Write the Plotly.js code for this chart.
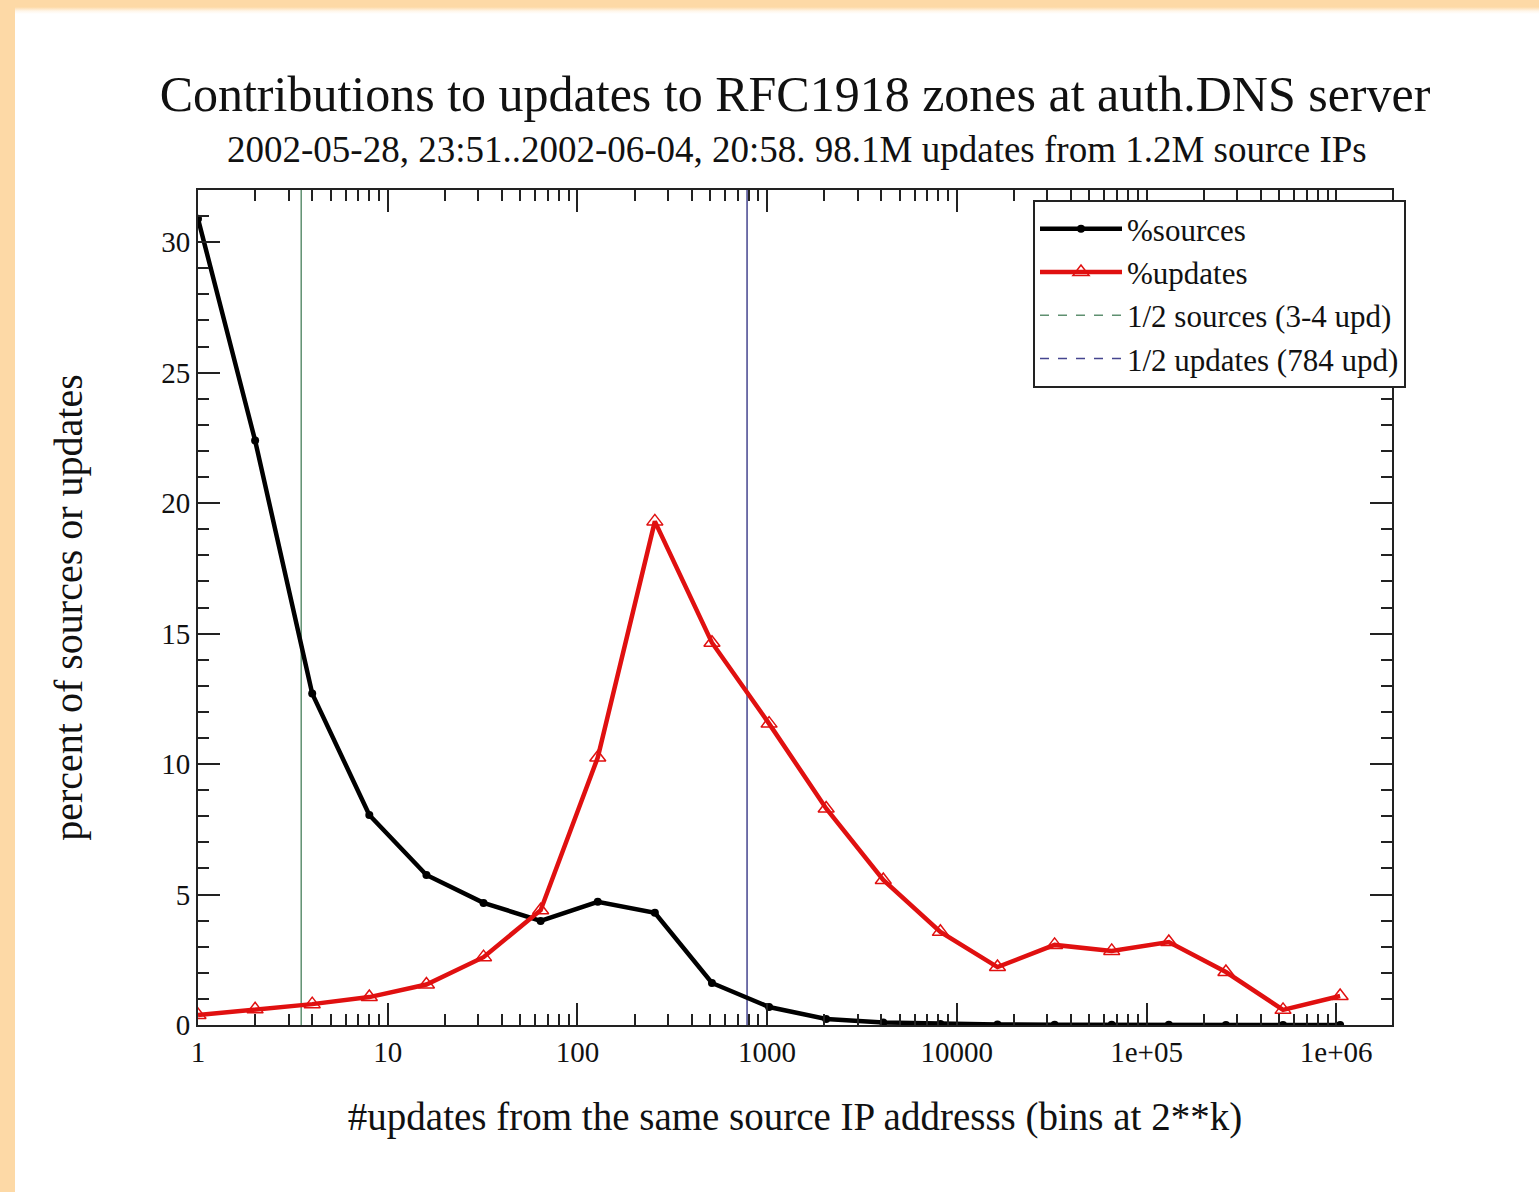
<!DOCTYPE html>
<html>
<head>
<meta charset="utf-8">
<script src="https://cdn.plot.ly/plotly-3.0.1.min.js"></script>
<style>
  html, body { margin: 0; padding: 0; background: #ffffff; }
  #frameLeft { position: absolute; left: 0; top: 0; width: 15px; height: 1192px; background: #fdd9a6; }
  #frameTop { position: absolute; left: 0; top: 0; width: 1539px; height: 14px;
              background: linear-gradient(#fdd9a6 0px, #fdd9a6 7px, #fff6ea 11px, #ffffff 14px); }
  #chart { position: absolute; left: 0; top: 0; width: 1539px; height: 1192px; }
</style>
</head>
<body>
<div id="frameTop"></div>
<div id="frameLeft"></div>
<div id="chart"></div>
<script>
// bins at 2**k, k = 0..20
var binUpdates = [1, 2, 4, 8, 16, 32, 64, 128, 256, 512, 1024, 2048, 4096, 8192,
                  16384, 32768, 65536, 131072, 262144, 524288, 1048576];
var pctSources = [30.9, 22.4, 12.7, 8.05, 5.75, 4.68, 3.99, 4.72, 4.3, 1.61, 0.69,
                  0.23, 0.1, 0.04, 0.02, 0.01, 0.01, 0.01, 0.0, 0.0, 0.0];
var pctUpdates = [0.38, 0.6, 0.8, 1.07, 1.55, 2.6, 4.4, 10.25, 19.3, 14.65, 11.55,
                  8.3, 5.56, 3.57, 2.22, 3.07, 2.84, 3.18, 2.03, 0.58, 1.11];
var halfSourcesX = [3.5, 3.5];
var halfUpdatesX = [784, 784];
var vLineY = [0, 32];
var xTickVals = [1, 10, 100, 1000, 10000, 100000, 1000000];
var xTickText = ["1", "10", "100", "1000", "10000", "1e+05", "1e+06"];
var yTickVals = [0, 5, 10, 15, 20, 25, 30];

var xMinor = [];
for (var d = 1; d <= 100000; d *= 10) {
  for (var m = 2; m <= 9; m++) xMinor.push(m * d);
}

var serif = "Liberation Serif, Times New Roman, serif";

var traces = [
  { x: halfSourcesX, y: vLineY, mode: "lines", showlegend: false, hoverinfo: "skip",
    line: { color: "#5f9070", width: 1.5 } },
  { x: halfUpdatesX, y: vLineY, mode: "lines", showlegend: false, hoverinfo: "skip",
    line: { color: "#45458f", width: 1.5 } },
  { x: binUpdates, y: pctSources, mode: "lines+markers", name: "%sources",
    line: { color: "#000000", width: 4.5 },
    marker: { symbol: "circle", size: 8, color: "#000000" } },
  { x: binUpdates, y: pctUpdates, mode: "lines+markers", name: "%updates",
    line: { color: "#e01010", width: 4.5 },
    marker: { symbol: "triangle-up-open", size: 14, color: "#e01010", line: { width: 1.5, color: "#e01010" } } },
  { x: [null], y: [null], mode: "lines", name: "1/2 sources (3-4 upd)",
    line: { color: "#5f9070", width: 1.5, dash: "dash" } },
  { x: [null], y: [null], mode: "lines", name: "1/2 updates (784 upd)",
    line: { color: "#45458f", width: 1.5, dash: "dash" } }
];

var layout = {
  width: 1539, height: 1192,
  paper_bgcolor: "rgba(0,0,0,0)",
  plot_bgcolor: "#ffffff",
  margin: { l: 198, r: 147, t: 190, b: 167 },
  font: { family: serif, color: "#111111", size: 28 },
  title: {
    text: "Contributions to updates to RFC1918 zones at auth.DNS server",
    font: { family: serif, size: 50, color: "#111111" },
    x: 0.5, xref: "paper", xanchor: "center",
    y: 1 - 93 / 1192, yref: "container", yanchor: "middle"
  },
  annotations: [{
    text: "2002-05-28, 23:51..2002-06-04, 20:58. 98.1M updates from 1.2M source IPs",
    xref: "paper", yref: "paper", x: 0.502, y: 1 + (190 - 149) / 835,
    xanchor: "center", yanchor: "middle", showarrow: false,
    font: { family: serif, size: 37, color: "#111111" }
  }],
  xaxis: {
    type: "log",
    range: [0, 6.294],
    tickmode: "array", tickvals: xTickVals, ticktext: xTickText,
    ticks: "inside", ticklen: 22, tickwidth: 2, tickcolor: "#222222",
    minor: { tickmode: "array", tickvals: xMinor, ticks: "inside", ticklen: 11, tickwidth: 2, tickcolor: "#222222" },
    showline: true, linecolor: "#222222", linewidth: 2, mirror: "allticks",
    showgrid: false, zeroline: false,
    tickfont: { family: serif, size: 29, color: "#111111" },
    title: { text: "#updates from the same source IP addresss (bins at 2**k)",
             font: { family: serif, size: 39, color: "#111111" }, standoff: 36 }
  },
  yaxis: {
    range: [0, 32],
    tickmode: "array", tickvals: yTickVals,
    ticks: "inside", ticklen: 22, tickwidth: 2, tickcolor: "#222222",
    minor: { dtick: 1, ticks: "inside", ticklen: 11, tickwidth: 2, tickcolor: "#222222" },
    showline: true, linecolor: "#222222", linewidth: 2, mirror: "allticks",
    showgrid: false, zeroline: false,
    tickfont: { family: serif, size: 29, color: "#111111" },
    title: { text: "percent of sources or updates",
             font: { family: serif, size: 40, color: "#111111" }, standoff: 66 }
  },
  legend: {
    x: (1033 - 198) / 1194, y: (1025 - 200) / 835, xanchor: "left", yanchor: "top",
    bgcolor: "#ffffff", bordercolor: "#222222", borderwidth: 2,
    font: { family: serif, size: 31, color: "#111111" },
    itemwidth: 82,
    tracegroupgap: 0
  },
  showlegend: true
};

Plotly.newPlot("chart", traces, layout, { displayModeBar: false, staticPlot: true });
</script>
</body>
</html>
